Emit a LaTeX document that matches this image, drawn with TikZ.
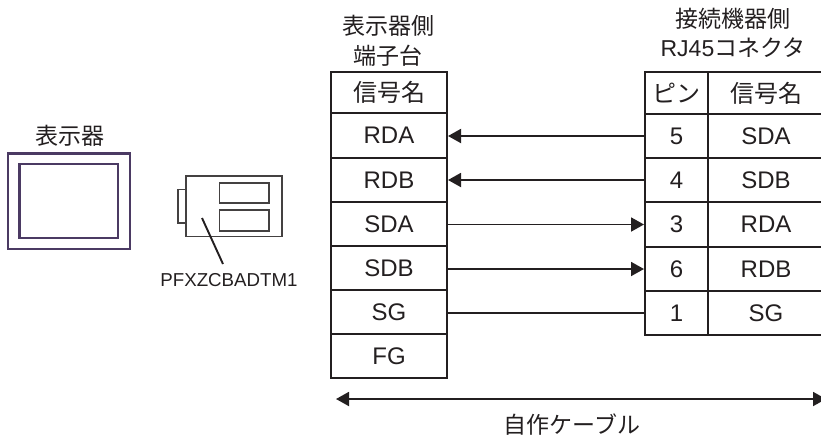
\documentclass[tikz,border=0pt]{standalone}
\usepackage{fontspec}
\setmainfont{Liberation Sans}
\newfontfamily\cjk{Noto Sans CJK JP}
\usetikzlibrary{arrows.meta}
\definecolor{ink}{HTML}{231F20}
\definecolor{bezel}{HTML}{4B3A63}
\tikzset{
  x=1pt,y=-1pt,
  cell/.style={draw=ink,line width=2pt,line join=miter,anchor=north west,inner sep=0pt,text=ink,font=\fontsize{24}{24}\selectfont,align=center},
  caption/.style={text=ink,font=\cjk\fontsize{23}{29.5}\selectfont,align=center,inner sep=0pt},
  wire/.style={draw=ink,line width=1.9pt},
  arr/.style={wire,-{Triangle[length=13pt,width=14pt]}},
  dev/.style={draw=ink!85,line width=1.7pt}
}
\newcommand{\cellat}[6]{\node[cell,minimum width=#4pt,minimum height=#5pt] (#1) at (#2,#3) {#6};}
\begin{document}
\begin{tikzpicture}
\useasboundingbox (0,0) rectangle (821,440);
\clip (0,0) rectangle (821,440);
% left table
\cellat{lh}{330}{71}{116}{41}{\cjk 信号名}
\cellat{l1}{330}{112}{116}{45}{RDA}
\cellat{l2}{330}{157}{116}{44}{RDB}
\cellat{l3}{330}{201}{116}{44}{SDA}
\cellat{l4}{330}{245}{116}{44}{SDB}
\cellat{l5}{330}{289}{116}{44}{SG}
\cellat{l6}{330}{333}{116}{44}{FG}
% right table
\cellat{ph}{644}{71}{63}{42}{\cjk ピン}
\cellat{p1}{644}{113}{63}{44}{5}
\cellat{p2}{644}{157}{63}{44}{4}
\cellat{p3}{644}{201}{63}{45}{3}
\cellat{p4}{644}{246}{63}{44}{6}
\cellat{p5}{644}{290}{63}{44}{1}
\cellat{rh}{707}{71}{116}{42}{\cjk 信号名}
\cellat{r1}{707}{113}{116}{44}{SDA}
\cellat{r2}{707}{157}{116}{44}{SDB}
\cellat{r3}{707}{201}{116}{45}{RDA}
\cellat{r4}{707}{246}{116}{44}{RDB}
\cellat{r5}{707}{290}{116}{44}{SG}
% wires
\draw[arr] (p1.west) -- (p1.west -| l1.east);
\draw[arr] (p2.west) -- (p2.west -| l2.east);
\draw[arr] (p3.west -| l3.east) -- (p3.west);
\draw[arr] (p4.west -| l4.east) -- (p4.west);
\draw[wire] (p5.west -| l5.east) -- (p5.west);
% captions
\node[caption] (c1) at (388,41) {表示器側\\端子台};
\node[caption] (c2) at (733,33) {接続機器側\\{\normalfont\fontsize{23}{29.5}\selectfont RJ45}コネクタ};
\node[caption] (c3) at (70,136) {表示器};
\node[caption] (c4) at (572,425) {自作ケーブル};
% cable arrow
\coordinate (a) at (336,399);
\coordinate (b) at (826,399);
\draw[wire,{Triangle[length=13pt,width=14pt]}-{Triangle[length=13pt,width=14pt]}] (a) -- (b);
% display
\draw[draw=bezel,line width=2.6pt] (8,153.5) rectangle (130,249);
\draw[draw=bezel,line width=2.2pt] (19.5,164) rectangle (118,238);
% module
\draw[dev] (186,176) rectangle (282,236.5);
\draw[dev] (178,189.5) rectangle (186,223);
\draw[dev] (219.5,183) rectangle (269,203);
\draw[dev] (219.5,210) rectangle (269,231);
\draw[line width=1.9pt,draw=ink] (202,218) -- (223,264);
\node[inner sep=0pt,text=ink,font=\fontsize{18.7}{18.7}\selectfont] (m) at (229,280) {PFXZCBADTM1};
\end{tikzpicture}
\end{document}
